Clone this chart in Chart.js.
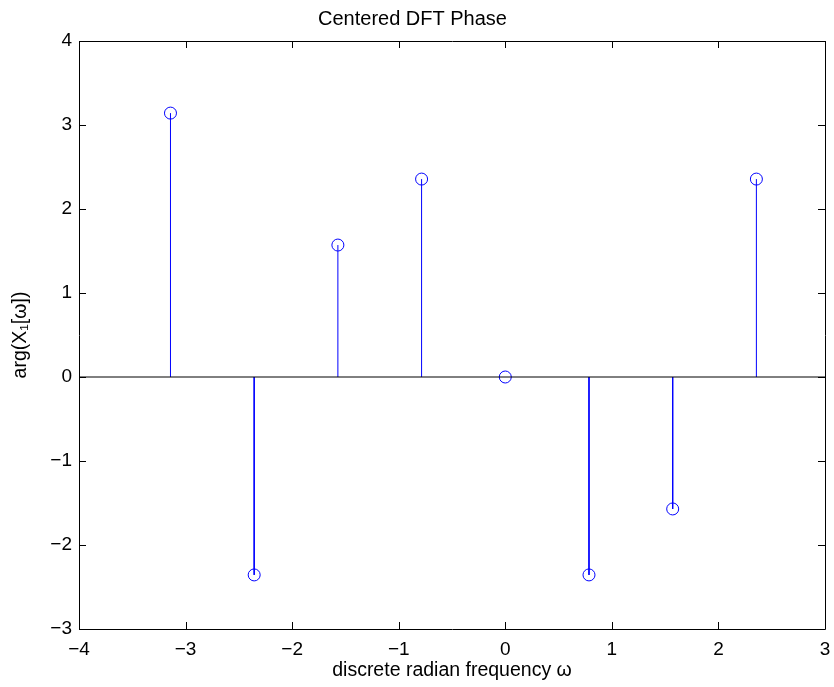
<!DOCTYPE html>
<html>
<head>
<meta charset="utf-8">
<script src="https://cdn.jsdelivr.net/npm/chart.js@4"></script>
<style>
  html, body { margin: 0; padding: 0; background: #fff; }
  #wrap { width: 834px; height: 687px; }
</style>
</head>
<body>
<div id="wrap"><canvas id="phaseChart" width="834" height="687"></canvas></div>
<script>
// valeurs
const freqs = [-3.1416, -2.3562, -1.5708, -0.7854, 0, 0.7854, 1.5708, 2.3562];
const phases = [3.1416, -2.3562, 1.5708, 2.3562, 0, -2.3562, -1.5708, 2.3562];
const xTicks = [-4, -3, -2, -1, 0, 1, 2, 3];
const yTicks = [-3, -2, -1, 0, 1, 2, 3, 4];
const xRange = [-4, 3];
const yRange = [-3, 4];

const blue = "#0000ff";
const font = "'Liberation Sans', Arial, Helvetica, sans-serif";

// tiges : (x,0) -> (x,y) puis coupure
const stems = [];
freqs.forEach((f, i) => {
    stems.push({ x: f, y: 0 }, { x: f, y: phases[i] }, { x: f, y: null });
});

const minus = v => String(v).replace("-", "\u2212");

// cadre + graduations vers l'intérieur (style MATLAB)
const boxPlugin = {
    id: "box",
    afterDraw(chart) {
        const { ctx, chartArea: a, scales: { x, y } } = chart;
        const len = 7;
        ctx.save();
        ctx.strokeStyle = "#000";
        ctx.lineWidth = 1;
        ctx.beginPath();
        ctx.rect(Math.round(a.left) + 0.5, Math.round(a.top) + 0.5,
                 Math.round(a.right - a.left), Math.round(a.bottom - a.top));
        xTicks.forEach(t => {
            const px = Math.round(x.getPixelForValue(t)) + 0.5;
            ctx.moveTo(px, a.bottom); ctx.lineTo(px, a.bottom - len);
            ctx.moveTo(px, a.top); ctx.lineTo(px, a.top + len);
        });
        yTicks.forEach(t => {
            const py = Math.round(y.getPixelForValue(t)) + 0.5;
            ctx.moveTo(a.left, py); ctx.lineTo(a.left + len, py);
            ctx.moveTo(a.right, py); ctx.lineTo(a.right - len, py);
        });
        ctx.stroke();
        ctx.restore();
    }
};

new Chart(document.getElementById("phaseChart"), {
    type: "scatter",
    data: {
        datasets: [
            {
                label: "baseline",
                data: [{ x: xRange[0], y: 0 }, { x: xRange[1], y: 0 }],
                showLine: true,
                borderColor: "#000",
                borderWidth: 1,
                pointRadius: 0
            },
            {
                label: "stems",
                data: stems,
                showLine: true,
                spanGaps: false,
                borderColor: blue,
                borderWidth: 1,
                pointRadius: 0
            },
            {
                label: "markers",
                data: freqs.map((f, i) => ({ x: f, y: phases[i] })),
                showLine: false,
                pointStyle: "circle",
                pointRadius: 6,
                pointBorderWidth: 1,
                pointBorderColor: blue,
                pointBackgroundColor: "rgba(0,0,0,0)"
            }
        ]
    },
    options: {
        responsive: false,
        animation: false,
        devicePixelRatio: 1,
        layout: { padding: { left: 0, right: 9, top: 0, bottom: 0 } },
        plugins: {
            legend: { display: false },
            tooltip: { enabled: false },
            title: {
                display: true,
                text: "Centered DFT Phase",
                color: "#000",
                font: { family: font, size: 20, weight: "normal", lineHeight: 1.2 },
                padding: { top: 7, bottom: 10 }
            }
        },
        scales: {
            x: {
                type: "linear",
                min: xRange[0],
                max: xRange[1],
                afterBuildTicks: s => { s.ticks = xTicks.map(v => ({ value: v })); },
                afterFit: s => { s.height = 58; s.paddingLeft = 0; s.paddingRight = 0; },
                grid: { display: false, drawTicks: false },
                border: { display: false },
                ticks: {
                    color: "#000",
                    padding: 9,
                    maxRotation: 0,
                    font: { family: font, size: 19 },
                    callback: v => minus(v)
                },
                title: {
                    display: true,
                    text: "discrete radian frequency \u03c9",
                    color: "#000",
                    font: { family: font, size: 19.5, lineHeight: 1.2 },
                    padding: { top: 0, bottom: 5 }
                }
            },
            y: {
                type: "linear",
                min: yRange[0],
                max: yRange[1],
                afterBuildTicks: s => { s.ticks = yTicks.map(v => ({ value: v })); },
                afterFit: s => { s.width = 79; s.paddingTop = 0; s.paddingBottom = 0; },
                grid: { display: false, drawTicks: false },
                border: { display: false },
                ticks: {
                    color: "#000",
                    padding: 7,
                    font: { family: font, size: 19 },
                    callback: v => minus(v)
                },
                title: {
                    display: true,
                    text: "arg(X\u2081[\u03c9])",
                    color: "#000",
                    font: { family: font, size: 19.5, lineHeight: 1.2 },
                    padding: { top: 9, bottom: 0 }
                }
            }
        }
    },
    plugins: [boxPlugin]
});
</script>
</body>
</html>
